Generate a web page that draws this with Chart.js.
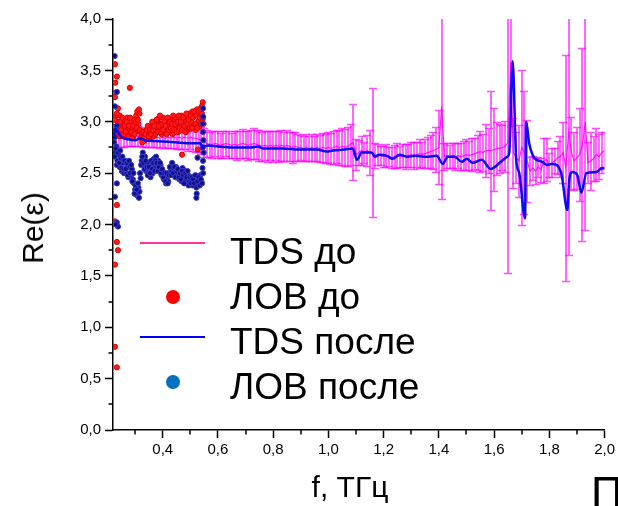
<!DOCTYPE html>
<html>
<head>
<meta charset="utf-8">
<script src="https://cdn.jsdelivr.net/npm/chart.js@4.4.1/dist/chart.umd.min.js"></script>
<style>
html, body { margin: 0; padding: 0; background: #fff; }
#wrap { position: relative; width: 618px; height: 506px; overflow: hidden; font-family: "Liberation Sans", Arial, sans-serif; color: #000; }
#chart { position: absolute; left: 0; top: 0; }
.t { position: absolute; white-space: nowrap; line-height: 1; }
.mk { position: absolute; }
</style>
</head>
<body>
<div id="wrap">
  <canvas id="chart" width="618" height="506"></canvas>

  <div class="mk" style="left:140px;top:241.5px;width:65px;height:2px;background:#ff3399"></div>
  <div class="t" style="left:230px;top:232.7px;font-size:37px">TDS до</div>
  <div class="mk" style="left:165.5px;top:289.5px;width:14.5px;height:14.5px;border-radius:50%;background:#ff0000"></div>
  <div class="t" style="left:230px;top:277.7px;font-size:37px">ЛОВ до</div>
  <div class="mk" style="left:140px;top:336px;width:65px;height:2px;background:#0000ff"></div>
  <div class="t" style="left:230px;top:322.7px;font-size:37px">TDS после</div>
  <div class="mk" style="left:165.5px;top:374.5px;width:14.5px;height:14.5px;border-radius:50%;background:#0070c0"></div>
  <div class="t" style="left:230px;top:367.7px;font-size:37px">ЛОВ после</div>

  <div class="t" style="left:33px;top:228px;font-size:30px;transform:translate(-50%,-50%) rotate(-90deg)">Re(ε)</div>
  <div class="t" style="left:350px;top:471.6px;font-size:30px;transform:translateX(-50%)">f, ТГц</div>
  <div class="t" style="left:591px;top:471px;font-size:44px">П</div>
</div>

<script>
// tick labels
const xMajorTicks = [0.4, 0.6, 0.8, 1.0, 1.2, 1.4, 1.6, 1.8, 2.0];
const xMinorTicks = [0.3, 0.5, 0.7, 0.9, 1.1, 1.3, 1.5, 1.7, 1.9];
const yMajorTicks = [0, 0.5, 1.0, 1.5, 2.0, 2.5, 3.0, 3.5, 4.0];
const yMinorTicks = [0.25, 0.75, 1.25, 1.75, 2.25, 2.75, 3.25, 3.75];

// TDS до : centre values and error half-widths
const tdsBeforeFreq = [
  0.23,0.24,0.25,0.26,0.27,0.28,0.29,0.30,0.31,0.32,
  0.33,0.34,0.35,0.36,0.37,0.38,0.39,0.40,0.41,0.42,
  0.43,0.44,0.45,0.46,0.47,0.48,0.49,0.50,0.51,0.52,
  0.53,0.54,0.55,0.56,0.57,0.58,0.59,0.60,0.61,0.62,
  0.63,0.64,0.65,0.66,0.67,0.68,0.69,0.70,0.71,0.72,
  0.73,0.74,0.75,0.76,0.77,0.78,0.79,0.80,0.81,0.82,
  0.83,0.84,0.85,0.86,0.87,0.88,0.89,0.90,0.91,0.92,
  0.93,0.94,0.95,0.96,0.97,0.98,0.99,1.00,1.01,1.02,
  1.03,1.04,1.05,1.06,1.07,1.08,1.09,1.10,1.11,1.12,
  1.13,1.14,1.15,1.16,1.17,1.18,1.19,1.20,1.21,1.22,
  1.23,1.24,1.25,1.26,1.27,1.28,1.29,1.30,1.31,1.32,
  1.33,1.34,1.35,1.36,1.37,1.38,1.39,1.40,1.41,1.42,
  1.43,1.44,1.45,1.46,1.47,1.48,1.49,1.50,1.51,1.52,
  1.53,1.54,1.55,1.56,1.57,1.58,1.59,1.60,1.61,1.62,
  1.63,1.64,1.65,1.66,1.67,1.68,1.69,1.70,1.71,1.72,
  1.73,1.74,1.75,1.76,1.77,1.78,1.79,1.80,1.81,1.82,
  1.83,1.84,1.85,1.86,1.87,1.88,1.89,1.90,1.91,1.92,
  1.93,1.94,1.95,1.96,1.97,1.98,1.99,2.00
];
const tdsBeforeVals = [
  2.88,2.87,2.86,2.85,2.86,2.85,2.86,2.85,2.86,2.85,
  2.84,2.85,2.84,2.85,2.84,2.85,2.84,2.85,2.84,2.85,
  2.84,2.85,2.84,2.85,2.84,2.85,2.84,2.85,2.84,2.84,
  2.83,2.82,2.80,2.79,2.78,2.78,2.79,2.78,2.77,2.78,
  2.79,2.78,2.77,2.78,2.77,2.78,2.79,2.78,2.77,2.78,
  2.79,2.78,2.77,2.76,2.77,2.76,2.77,2.76,2.77,2.76,
  2.77,2.76,2.77,2.76,2.75,2.76,2.75,2.75,2.74,2.75,
  2.74,2.75,2.74,2.75,2.74,2.75,2.74,2.75,2.74,2.75,
  2.76,2.75,2.76,2.75,2.76,2.78,2.80,2.68,2.70,2.72,
  2.70,2.72,2.70,2.70,2.67,2.68,2.67,2.66,2.67,2.66,
  2.65,2.66,2.67,2.66,2.67,2.66,2.67,2.68,2.67,2.68,
  2.69,2.68,2.69,2.70,2.71,2.72,2.73,2.75,3.15,2.66,
  2.67,2.66,2.67,2.66,2.67,2.66,2.67,2.68,2.67,2.68,
  2.69,2.70,2.71,2.70,2.72,2.72,2.72,2.73,2.74,2.74,
  2.75,2.76,2.80,3.58,2.70,2.65,2.62,2.75,2.70,2.62,
  2.52,2.55,2.52,2.56,2.53,2.62,2.63,2.58,2.60,2.62,
  2.65,2.66,2.70,2.55,2.90,2.70,2.62,2.65,2.68,2.78,
  3.00,2.60,2.62,2.64,2.68,2.66,2.70,2.72
];
const tdsBeforeErr = [
  0.15,0.12,0.11,0.10,0.10,0.09,0.10,0.09,0.10,0.09,
  0.09,0.10,0.09,0.10,0.09,0.10,0.10,0.10,0.10,0.11,
  0.10,0.11,0.11,0.12,0.11,0.12,0.12,0.12,0.12,0.13,
  0.12,0.13,0.14,0.13,0.12,0.13,0.12,0.13,0.12,0.13,
  0.12,0.13,0.12,0.13,0.14,0.13,0.14,0.13,0.14,0.14,
  0.15,0.14,0.15,0.14,0.14,0.15,0.14,0.15,0.14,0.15,
  0.15,0.14,0.15,0.14,0.15,0.14,0.13,0.12,0.12,0.13,
  0.12,0.13,0.12,0.13,0.13,0.14,0.14,0.15,0.15,0.16,
  0.16,0.17,0.18,0.18,0.19,0.20,0.37,0.15,0.12,0.14,
  0.10,0.15,0.22,0.63,0.12,0.10,0.09,0.10,0.11,0.09,
  0.10,0.11,0.12,0.10,0.11,0.12,0.11,0.12,0.13,0.12,
  0.14,0.12,0.14,0.15,0.16,0.18,0.22,0.36,0.90,0.13,
  0.12,0.11,0.12,0.13,0.12,0.13,0.14,0.15,0.14,0.16,
  0.15,0.17,0.20,0.18,0.26,0.22,0.58,0.40,0.26,0.24,
  0.22,0.25,1.27,0.62,0.34,0.25,0.35,0.75,0.60,0.40,
  0.14,0.12,0.13,0.10,0.12,0.22,0.21,0.12,0.14,0.12,
  0.16,0.20,0.30,1.10,1.20,0.35,0.28,0.30,0.45,0.94,
  1.05,0.20,0.28,0.22,0.26,0.22,0.20,0.18
];

// TDS после
const tdsAfterFreq = [
  0.223,0.231,0.249,0.274,0.300,0.318,0.336,0.383,0.444,0.502,
  0.535,0.546,0.564,0.600,0.654,0.720,0.745,0.763,0.835,0.896,
  0.958,0.994,1.016,1.060,1.088,1.103,1.121,1.157,1.168,1.186,
  1.210,1.233,1.258,1.284,1.313,1.356,1.392,1.414,1.432,1.457,
  1.483,1.501,1.522,1.555,1.588,1.620,1.648,1.655,1.667,1.680,
  1.691,1.712,1.716,1.727,1.745,1.774,1.792,1.810,1.843,1.861,
  1.865,1.872,1.883,1.901,1.916,1.934,1.970,1.991,2.000
];
const tdsAfterVals = [
  2.87,2.92,2.85,2.83,2.82,2.84,2.82,2.81,2.80,2.79,
  2.79,2.76,2.77,2.76,2.75,2.75,2.76,2.74,2.74,2.73,
  2.73,2.71,2.72,2.73,2.74,2.63,2.70,2.70,2.66,2.68,
  2.67,2.64,2.68,2.66,2.67,2.66,2.67,2.59,2.66,2.66,
  2.61,2.64,2.60,2.63,2.54,2.60,2.66,2.70,3.59,2.63,
  2.50,2.06,3.00,2.79,2.65,2.61,2.58,2.59,2.50,2.17,
  2.14,2.43,2.51,2.48,2.31,2.50,2.51,2.55,2.55
];

// ЛОВ до / ЛОВ после : two interleaved frequency grids
const lovFreqA = [
  0.224,0.228,0.232,0.236,0.240,0.244,0.248,0.252,0.256,0.260,
  0.264,0.268,0.272,0.276,0.280,0.284,0.288,0.292,0.296,0.300,
  0.304,0.308,0.312,0.316,0.320,0.324,0.328,0.332,0.336,0.340,
  0.344,0.348,0.352,0.356,0.360,0.364,0.368,0.372,0.376,0.380,
  0.384,0.388,0.392,0.396,0.400,0.404,0.408,0.412,0.416,0.420,
  0.424,0.428,0.432,0.436,0.440,0.444,0.448,0.452,0.456,0.460,
  0.464,0.468,0.472,0.476,0.480,0.484,0.488,0.492,0.496,0.500,
  0.504,0.508,0.512,0.516,0.520,0.524,0.528,0.532,0.536,0.540,0.544,0.548
];
const lovFreqB = [
  0.226,0.230,0.234,0.238,0.242,0.246,0.250,0.254,0.258,0.262,
  0.266,0.270,0.274,0.278,0.282,0.286,0.290,0.294,0.298,0.302,
  0.306,0.310,0.314,0.318,0.322,0.326,0.330,0.334,0.338,0.342,
  0.346,0.350,0.354,0.358,0.362,0.366,0.370,0.374,0.378,0.382,
  0.386,0.390,0.394,0.398,0.402,0.406,0.410,0.414,0.418,0.422,
  0.426,0.430,0.434,0.438,0.442,0.446,0.450,0.454,0.458,0.462,
  0.466,0.470,0.474,0.478,0.482,0.486,0.490,0.494,0.498,0.502,
  0.506,0.510,0.514,0.518,0.522,0.526,0.530,0.534,0.538,0.542,0.546
];
const lovBeforeValsA = [
  2.95,3.05,2.88,3.00,2.92,3.06,2.86,2.98,3.02,2.90,
  2.96,2.86,3.04,2.92,2.88,3.00,2.94,2.85,3.02,2.90,
  3.06,3.10,2.98,3.08,2.90,2.86,2.83,2.88,2.82,2.86,
  2.84,2.90,2.83,2.95,2.88,2.98,2.86,3.00,2.90,2.95,
  3.03,2.92,2.98,2.88,3.04,2.94,2.90,3.00,2.93,2.98,
  2.90,3.02,2.95,2.88,3.00,2.92,3.04,2.96,2.90,3.02,
  2.94,3.06,2.92,2.98,3.02,2.90,3.05,2.95,3.08,2.93,
  3.00,3.10,2.96,3.06,2.92,3.12,3.00,2.95,3.08,3.14,3.02,2.98
];
const lovBeforeValsB = [
  3.02,2.90,3.08,2.94,2.86,3.00,2.92,3.04,2.88,2.96,
  2.90,3.00,2.86,2.96,3.04,2.90,2.84,2.96,2.88,3.00,
  2.94,3.02,3.12,2.92,2.84,2.80,2.90,2.85,2.88,2.92,
  2.96,2.86,2.92,2.88,3.00,2.92,2.96,2.88,3.02,2.90,
  2.96,3.06,2.90,2.98,2.92,3.00,2.96,2.88,3.04,2.92,
  3.00,2.94,2.98,3.06,2.92,2.98,2.90,3.00,3.06,2.94,
  3.00,2.92,3.04,2.96,2.90,3.08,2.98,3.02,2.94,3.06,
  2.94,3.04,3.10,2.98,3.06,2.94,3.10,3.04,2.98,3.08,3.04
];
const lovAfterValsA = [
  2.80,2.70,2.76,2.62,2.68,2.56,2.64,2.52,2.60,2.50,
  2.62,2.50,2.58,2.46,2.56,2.48,2.54,2.44,2.40,2.34,
  2.30,2.28,2.36,2.32,2.45,2.62,2.70,2.58,2.66,2.52,
  2.60,2.50,2.55,2.46,2.58,2.50,2.64,2.56,2.66,2.58,
  2.62,2.54,2.58,2.48,2.52,2.44,2.48,2.40,2.46,2.42,
  2.50,2.55,2.52,2.58,2.54,2.50,2.56,2.48,2.52,2.44,
  2.50,2.42,2.55,2.46,2.52,2.44,2.40,2.48,2.42,2.46,
  2.42,2.38,2.46,2.40,2.44,2.37,2.45,2.40,2.48,2.42,2.55,2.70
];
const lovAfterValsB = [
  2.66,2.74,2.58,2.70,2.60,2.72,2.55,2.66,2.54,2.62,
  2.54,2.60,2.48,2.62,2.50,2.58,2.42,2.50,2.30,2.38,
  2.34,2.40,2.26,2.50,2.58,2.66,2.60,2.54,2.62,2.56,
  2.48,2.56,2.50,2.62,2.54,2.60,2.52,2.62,2.60,2.52,
  2.56,2.60,2.50,2.54,2.46,2.50,2.42,2.50,2.40,2.48,
  2.56,2.48,2.60,2.50,2.56,2.46,2.52,2.54,2.46,2.50,
  2.44,2.52,2.48,2.40,2.50,2.46,2.52,2.38,2.46,2.40,
  2.46,2.44,2.40,2.48,2.36,2.42,2.46,2.38,2.44,2.40,2.50
];
const lovBeforeExtraFreq = [0.227,0.234,0.228,0.225,0.227,0.281,0.238,0.545,0.542,0.538,0.470,0.527,0.234,0.227,0.234,0.238,0.227,0.227,0.234];
const lovBeforeExtraVals = [3.56,3.44,3.38,3.28,3.24,3.33,3.13,3.19,3.15,3.12,2.68,2.73,2.19,2.03,1.83,1.75,1.61,0.81,0.61];
const lovAfterExtraFreq = [0.226,0.234,0.227,0.234,0.546,0.546,0.545,0.546,0.547,0.545,0.546,0.526,0.523,0.522,0.227,0.234,0.234,0.238,0.230,0.226,0.229];
const lovAfterExtraVals = [3.64,3.29,3.15,2.96,3.13,3.05,2.98,2.90,2.82,2.75,2.62,2.65,2.30,2.26,2.27,2.40,2.02,1.98,2.00,2.85,2.92];

const pts = (xs, ys) => xs.map((x, i) => ({ x: x, y: ys[i] }));
const fmt = v => Number(v).toFixed(1).replace('.', ',');

// error bars of "TDS до", drawn under everything else
const errorBars = {
  id: 'errorBars',
  beforeDatasetDraw(chart, args) {
    if (args.index !== 0) return;
    const { ctx, chartArea, scales: { x, y } } = chart;
    ctx.save();
    ctx.beginPath();
    ctx.rect(chartArea.left, chartArea.top, chartArea.width, chartArea.height);
    ctx.clip();
    ctx.strokeStyle = 'rgba(255,0,255,0.7)';
    ctx.lineWidth = 1.7;
    tdsBeforeFreq.forEach((f, i) => {
      const px = Math.round(x.getPixelForValue(f));
      const top = Math.round(y.getPixelForValue(tdsBeforeVals[i] + tdsBeforeErr[i])) + 0.5;
      const bot = Math.round(y.getPixelForValue(tdsBeforeVals[i] - tdsBeforeErr[i])) + 0.5;
      ctx.beginPath();
      ctx.moveTo(px, top); ctx.lineTo(px, bot);
      ctx.moveTo(px - 4, top); ctx.lineTo(px + 4, top);
      ctx.moveTo(px - 4, bot); ctx.lineTo(px + 4, bot);
      ctx.stroke();
    });
    ctx.restore();
  }
};

// short minor ticks on both axes
const minorTicks = {
  id: 'minorTicks',
  afterDraw(chart) {
    const { ctx, chartArea, scales: { x, y } } = chart;
    ctx.save();
    ctx.strokeStyle = '#000';
    ctx.lineWidth = 1.5;
    xMinorTicks.forEach(v => {
      const p = Math.round(x.getPixelForValue(v));
      ctx.beginPath(); ctx.moveTo(p, chartArea.bottom); ctx.lineTo(p, chartArea.bottom + 4.5); ctx.stroke();
    });
    yMinorTicks.forEach(v => {
      const p = Math.round(y.getPixelForValue(v));
      ctx.beginPath(); ctx.moveTo(chartArea.left, p); ctx.lineTo(chartArea.left - 4.5, p); ctx.stroke();
    });
    ctx.restore();
  }
};

const tickFont = { family: '"Liberation Sans", Arial, sans-serif', size: 15 };

new Chart(document.getElementById('chart'), {
  type: 'scatter',
  data: {
    datasets: [
      {
        label: 'TDS до',
        data: pts(tdsBeforeFreq, tdsBeforeVals),
        showLine: true,
        borderColor: 'rgba(255,0,255,0.9)',
        borderWidth: 1.2,
        pointRadius: 0,
        order: 3
      },
      {
        label: 'ЛОВ до',
        data: pts(lovFreqA.concat(lovFreqB, lovBeforeExtraFreq), lovBeforeValsA.concat(lovBeforeValsB, lovBeforeExtraVals)),
        showLine: false,
        backgroundColor: '#ff1a1a',
        borderColor: '#e00000',
        borderWidth: 1,
        pointRadius: 2.6,
        order: 2
      },
      {
        label: 'TDS после',
        data: pts(tdsAfterFreq, tdsAfterVals),
        showLine: true,
        borderColor: '#0a0af5',
        borderWidth: 2.5,
        pointRadius: 0,
        cubicInterpolationMode: 'monotone',
        order: 0
      },
      {
        label: 'ЛОВ после',
        data: pts(lovFreqA.concat(lovFreqB, lovAfterExtraFreq), lovAfterValsA.concat(lovAfterValsB, lovAfterExtraVals)),
        showLine: false,
        backgroundColor: '#101085',
        borderColor: '#3a3ad0',
        borderWidth: 1,
        pointRadius: 2.6,
        order: 1
      }
    ]
  },
  options: {
    responsive: false,
    animation: false,
    layout: { padding: { left: 0, right: 13, top: 19, bottom: 0 } },
    plugins: { legend: { display: false }, tooltip: { enabled: false } },
    scales: {
      x: {
        type: 'linear',
        min: 0.22,
        max: 2.0,
        afterBuildTicks: s => { s.ticks = xMajorTicks.map(v => ({ value: v })); },
        afterFit: s => { s.height = 76; },
        grid: { drawOnChartArea: false, drawTicks: true, tickLength: 8, tickColor: '#000', tickWidth: 1.5 },
        border: { display: true, color: '#000', width: 1.5 },
        ticks: { color: '#000', font: tickFont, padding: 3, maxRotation: 0, autoSkip: false, callback: v => fmt(v) }
      },
      y: {
        type: 'linear',
        min: 0,
        max: 4.0,
        afterBuildTicks: s => { s.ticks = yMajorTicks.map(v => ({ value: v })); },
        afterFit: s => { s.width = 113; },
        grid: { drawOnChartArea: false, drawTicks: true, tickLength: 8, tickColor: '#000', tickWidth: 1.5 },
        border: { display: true, color: '#000', width: 1.5 },
        ticks: { color: '#000', font: tickFont, padding: 4, autoSkip: false, callback: v => fmt(v) }
      }
    }
  },
  plugins: [errorBars, minorTicks]
});
</script>
</body>
</html>
